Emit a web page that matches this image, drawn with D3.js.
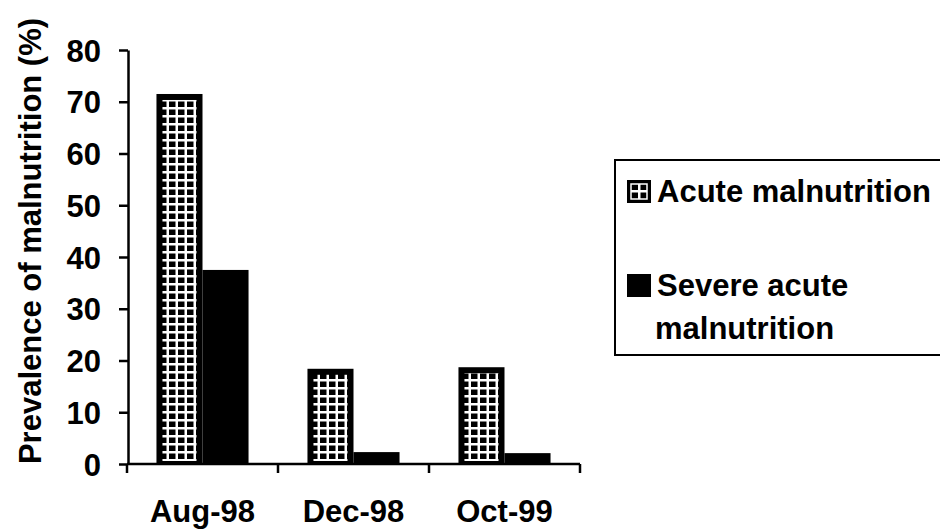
<!DOCTYPE html>
<html>
<head>
<meta charset="utf-8">
<script src="https://cdnjs.cloudflare.com/ajax/libs/d3/7.8.5/d3.min.js"></script>
<style>
  html, body { margin: 0; padding: 0; background: #fff; }
  svg { display: block; }
  text { font-family: "Liberation Sans", Arial, sans-serif; font-weight: bold; fill: #000; }
</style>
</head>
<body>
<svg id="chart" width="940" height="529"></svg>
<script>
// Survey rounds and malnutrition prevalence (%)
const categories = ["Aug-98", "Dec-98", "Oct-99"];
const seriesNames = ["Acute malnutrition", "Severe acute malnutrition"];
const acuteValues = [71.5, 18.4, 18.7];
const severeValues = [37.5, 2.3, 2.1];
const yTicks = [0, 10, 20, 30, 40, 50, 60, 70, 80];

const rows = categories.map((c, i) => ({
  category: c,
  values: [
    { series: seriesNames[0], value: acuteValues[i] },
    { series: seriesNames[1], value: severeValues[i] }
  ]
}));

const svg = d3.select("#chart");

// Grid hatch used for the acute malnutrition bars
const defs = svg.append("defs");
const pat = defs.append("pattern")
  .attr("id", "grid")
  .attr("patternUnits", "userSpaceOnUse")
  .attr("width", 9).attr("height", 8);
pat.append("rect").attr("width", 9).attr("height", 8).attr("fill", "#000");
pat.append("rect").attr("x", 0).attr("y", 3).attr("width", 9).attr("height", 2.5).attr("fill", "#fff");
pat.append("rect").attr("x", 3.5).attr("y", 0).attr("width", 2.5).attr("height", 8).attr("fill", "#fff");

const x = d3.scaleBand().domain(categories).range([127, 580]).paddingInner(0).paddingOuter(0);
const xSub = d3.scaleBand().domain(seriesNames).range([0, x.bandwidth()]).paddingInner(0).paddingOuter(0.64);
const y = d3.scaleLinear().domain([0, 80]).range([464, 50]);

// Bars
const groups = svg.append("g").selectAll("g")
  .data(rows).join("g")
  .attr("transform", d => `translate(${x(d.category)},0)`);

groups.selectAll("g.bar")
  .data(d => d.values).join("g")
  .attr("class", "bar")
  .each(function(d) {
    const g = d3.select(this);
    const bx = xSub(d.series), bw = xSub.bandwidth();
    const top = y(d.value), h = y(0) - y(d.value);
    g.append("rect")
      .attr("x", bx).attr("y", top).attr("width", bw).attr("height", h)
      .attr("fill", "#000");
    if (d.series === seriesNames[0]) {
      const inset = 6;
      g.append("rect")
        .attr("x", bx + inset).attr("y", top + inset)
        .attr("width", Math.max(0, bw - 2 * inset))
        .attr("height", Math.max(0, h - inset - 3))
        .attr("fill", "url(#grid)");
    }
  });

// Y axis
const yAxis = svg.append("g")
  .attr("transform", "translate(128,0)")
  .call(d3.axisLeft(y).tickValues(yTicks).tickSize(9).tickSizeOuter(0).tickPadding(18));
yAxis.selectAll("text").style("font-size", "31px").attr("dy", "0.36em");
yAxis.select(".domain").attr("stroke", "#000").attr("stroke-width", 2.5);
yAxis.selectAll(".tick line").attr("stroke", "#000").attr("stroke-width", 2.5);

// X axis
const xTickPos = [127].concat(categories.map(c => x(c) + x.bandwidth()));
const xAxis = svg.append("g")
  .attr("transform", "translate(0,464)");
xAxis.append("line")
  .attr("x1", x.range()[0]).attr("x2", x.range()[1])
  .attr("stroke", "#000").attr("stroke-width", 2.5);
xAxis.selectAll("line.tk")
  .data(xTickPos).join("line")
  .attr("class", "tk")
  .attr("x1", d => d).attr("x2", d => d)
  .attr("y1", 0).attr("y2", 9)
  .attr("stroke", "#000").attr("stroke-width", 2.5);
xAxis.selectAll("text")
  .data(categories).join("text")
  .attr("x", d => x(d) + x.bandwidth() / 2)
  .attr("y", 58)
  .attr("text-anchor", "middle")
  .style("font-size", "31px")
  .text(d => d);

// Y axis title
svg.append("text")
  .attr("transform", "translate(41,241) rotate(-90)")
  .attr("text-anchor", "middle")
  .style("font-size", "31px")
  .text("Prevalence of malnutrition (%)");

// Legend
const legend = svg.append("g");
legend.append("rect")
  .attr("x", 615).attr("y", 160).attr("width", 340).attr("height", 195)
  .attr("fill", "#fff").attr("stroke", "#000").attr("stroke-width", 2);

const legendItems = [
  { name: seriesNames[0], lines: ["Acute malnutrition"], y: 180 },
  { name: seriesNames[1], lines: ["Severe acute", "malnutrition"], y: 274 }
];
legendItems.forEach(item => {
  legend.append("rect")
    .attr("x", 627).attr("y", item.y).attr("width", 24).attr("height", 23)
    .attr("fill", "#000");
  if (item.name === seriesNames[0]) {
    // single cell of the grid hatch: white cross inside a black frame
    legend.append("rect")
      .attr("x", 631).attr("y", item.y + 10).attr("width", 16).attr("height", 2.5)
      .attr("fill", "#fff");
    legend.append("rect")
      .attr("x", 638).attr("y", item.y + 4).attr("width", 2.5).attr("height", 15)
      .attr("fill", "#fff");
    legend.append("rect")
      .attr("x", 631).attr("y", item.y + 4).attr("width", 16).attr("height", 15)
      .attr("fill", "none").attr("stroke", "#fff").attr("stroke-width", 1.5);
  }
  const t = legend.append("text")
    .attr("x", 657).attr("y", item.y + 22)
    .style("font-size", "31px");
  item.lines.forEach((ln, i) => {
    t.append("tspan").attr("x", i === 0 ? 657 : 655).attr("dy", i === 0 ? 0 : 43).text(ln);
  });
});
</script>
</body>
</html>
